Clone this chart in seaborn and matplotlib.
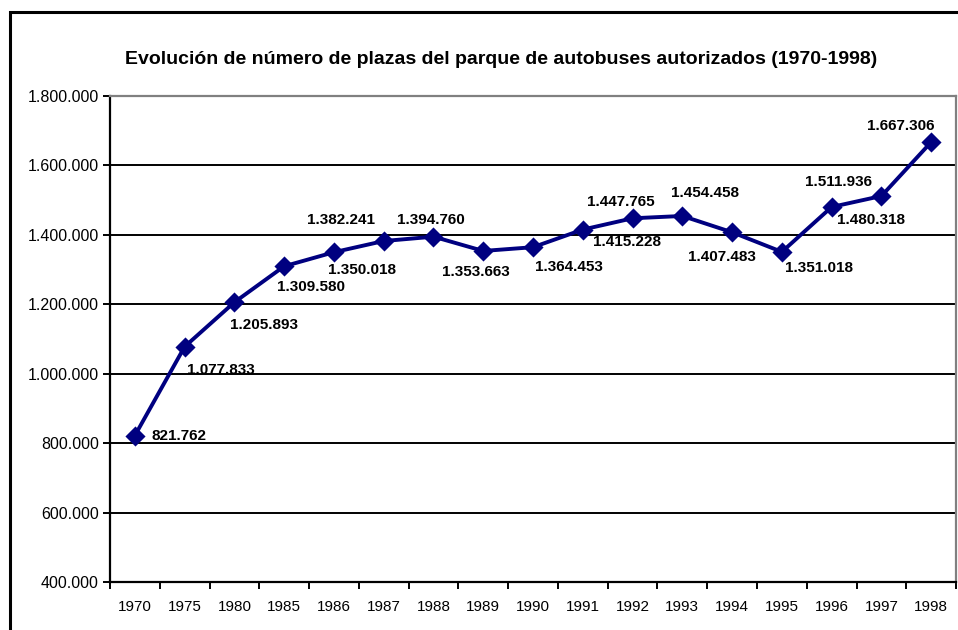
import matplotlib
matplotlib.use("Agg")
import matplotlib.pyplot as plt
from matplotlib.ticker import FuncFormatter, FixedLocator, NullFormatter
from matplotlib.patches import Rectangle
import seaborn as sns
import pandas as pd

years = ["1970", "1975", "1980", "1985", "1986", "1987", "1988", "1989", "1990",
         "1991", "1992", "1993", "1994", "1995", "1996", "1997", "1998"]
plazas = [821762, 1077833, 1205893, 1309580, 1350018, 1382241, 1394760, 1353663,
          1364453, 1415228, 1447765, 1454458, 1407483, 1351018, 1480318, 1511936,
          1667306]
# label offsets (points) of each label's left edge relative to its marker
label_dx = [12, 1.5, -3, -5, -4, -55, -26, -30, 1.5, 7, -33, -8, -32, 2, 4, -55, -46]
label_dy = [0, -16.5, -16.5, -15, -13, 15, 12, -15, -14, -9, 11.5, 16.5, -18, -11.5, -9.5, 10, 11.5]

title = "Evolución de número de plazas del parque de autobuses autorizados (1970-1998)"

sns.set_theme(style="white")
plt.rcParams["font.family"] = ["Liberation Sans", "DejaVu Sans"]
plt.rcParams["text.color"] = "black"
plt.rcParams["xtick.labelcolor"] = "black"
plt.rcParams["ytick.labelcolor"] = "black"

df = pd.DataFrame({"year": years, "plazas": plazas})

fig = plt.figure(figsize=(9.58, 6.30), dpi=100)
ax = fig.add_axes([0.1148, 0.0762, 0.8832, 0.7714])

navy = "#000080"
sns.pointplot(data=df, x="year", y="plazas", color=navy, markers="D",
              markersize=8.5, linewidth=2.8, ax=ax, order=years)

ax.set_ylim(400000, 1800000)
ax.set_xlim(-0.5, len(years) - 0.5)
ax.set_yticks(range(400000, 1800001, 200000))
ax.yaxis.set_major_formatter(FuncFormatter(lambda v, p: f"{int(v):,}".replace(",", ".")))
ax.grid(axis="y", color="black", linewidth=1.4)
ax.set_axisbelow(True)
ax.set_xlabel("")
ax.set_ylabel("")

# category boundary ticks on x, labels centred under categories
ax.xaxis.set_minor_locator(FixedLocator([i - 0.5 for i in range(len(years) + 1)]))
ax.xaxis.set_minor_formatter(NullFormatter())
ax.tick_params(axis="x", which="major", length=0, pad=13, labelsize=11,
               labelcolor="black")
ax.tick_params(axis="x", which="minor", bottom=True, length=5, width=1.4, color="black")
ax.tick_params(axis="y", which="major", left=True, length=5, width=1.4, color="black",
               labelsize=11.5, pad=3, labelcolor="black")

for side in ["left", "bottom"]:
    ax.spines[side].set_color("black")
    ax.spines[side].set_linewidth(1.6)
for side in ["top", "right"]:
    ax.spines[side].set_color("#808080")
    ax.spines[side].set_linewidth(1.6)
    ax.spines[side].set_visible(True)

for i, v in enumerate(plazas):
    ax.annotate(f"{v:,}".replace(",", "."), xy=(i, v), xytext=(label_dx[i], label_dy[i]),
                textcoords="offset points", ha="left", va="center",
                fontsize=11, fontweight="bold", color="black")

fig.text(0.523, 0.906, title, ha="center", va="center", fontsize=14,
         fontweight="bold", color="black")

# outer chart frame
fig.patches.append(Rectangle((10 / 958, -0.1), 1.2, (618 / 630) + 0.1,
                             transform=fig.transFigure, fill=False,
                             edgecolor="black", linewidth=2.2))

fig.savefig("out.png", dpi=100)
